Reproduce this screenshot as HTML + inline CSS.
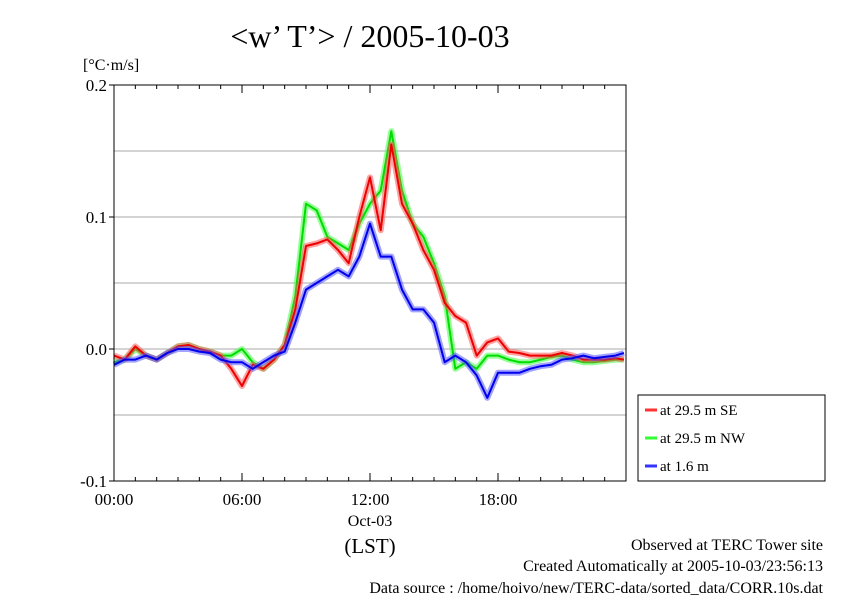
<!DOCTYPE html>
<html><head><meta charset="utf-8"><style>
body{margin:0;background:#fff;}
svg{display:block;font-family:"Liberation Serif",serif;}
</style></head><body>
<svg id="c" width="842" height="595" xmlns="http://www.w3.org/2000/svg">
<text x="370" y="47" font-size="32" text-anchor="middle">&lt;w’ T’&gt; / 2005-10-03</text>
<text x="83" y="70" font-size="16">[°C·m/s]</text>
<g id="grid"></g><g id="series"></g><g id="axes"></g>
<text x="370" y="526" font-size="16" text-anchor="middle">Oct-03</text>
<text x="370" y="553" font-size="21" text-anchor="middle">(LST)</text>
<text x="823" y="550" font-size="16" text-anchor="end">Observed at TERC Tower site</text>
<text x="823" y="571" font-size="16" text-anchor="end">Created Automatically at 2005-10-03/23:56:13</text>
<text x="823" y="593" font-size="16" text-anchor="end">Data source : /home/hoivo/new/TERC-data/sorted_data/CORR.10s.dat</text>
<g>
<rect x="638" y="395" width="187" height="86" fill="#fff" stroke="#000"/>
<line x1="645" y1="410" x2="657" y2="410" stroke="#f33" stroke-width="3"/><text x="660" y="415" font-size="15">at 29.5 m SE</text>
<line x1="645" y1="438" x2="657" y2="438" stroke="#3f3" stroke-width="3"/><text x="660" y="443" font-size="15">at 29.5 m NW</text>
<line x1="645" y1="466" x2="657" y2="466" stroke="#33f" stroke-width="3"/><text x="660" y="471" font-size="15">at 1.6 m</text>
</g>
</svg>
<script>
const hours=[];for(let i=0;i<=48;i++)hours.push(i*0.5);
const seriesSE=[-0.005,-0.008,0.002,-0.005,-0.008,-0.003,0.002,0.003,0.0,-0.002,-0.005,-0.015,-0.028,-0.012,-0.015,-0.008,0.003,0.03,0.078,0.08,0.083,0.075,0.065,0.10,0.13,0.09,0.155,0.11,0.095,0.075,0.06,0.035,0.025,0.02,-0.005,0.005,0.008,-0.002,-0.003,-0.005,-0.005,-0.005,-0.003,-0.005,-0.008,-0.008,-0.008,-0.007,-0.008];
const seriesNW=[-0.01,-0.008,0.0,-0.005,-0.008,-0.003,0.002,0.003,0.0,-0.002,-0.005,-0.005,0.0,-0.01,-0.015,-0.008,0.003,0.04,0.11,0.105,0.085,0.08,0.075,0.095,0.11,0.12,0.165,0.12,0.095,0.085,0.065,0.04,-0.015,-0.01,-0.015,-0.005,-0.005,-0.008,-0.01,-0.01,-0.008,-0.006,-0.005,-0.008,-0.01,-0.01,-0.009,-0.008,-0.008];
const seriesLow=[-0.012,-0.008,-0.008,-0.005,-0.008,-0.003,0.0,0.0,-0.002,-0.003,-0.008,-0.01,-0.01,-0.015,-0.01,-0.005,-0.002,0.02,0.045,0.05,0.055,0.06,0.055,0.07,0.095,0.07,0.07,0.045,0.03,0.03,0.02,-0.01,-0.005,-0.01,-0.02,-0.037,-0.018,-0.018,-0.018,-0.015,-0.013,-0.012,-0.008,-0.007,-0.005,-0.007,-0.006,-0.005,-0.003];
const yTicks=[0.2,0.1,0.0,-0.1];
const yTickLabels=["0.2","0.1","0.0","-0.1"];
const xTicks=[0,6,12,18];
const xTickLabels=["00:00","06:00","12:00","18:00"];
const NS="http://www.w3.org/2000/svg";
const L=114,R=626,T=85,B=481;
const xs=h=>L+h/24*(R-L);
const ys=v=>349-v*1320;
function mk(t,a,p){const e=document.createElementNS(NS,t);for(const k in a)e.setAttribute(k,a[k]);p.appendChild(e);return e;}
const grid=document.getElementById('grid'),axes=document.getElementById('axes'),ser=document.getElementById('series');
[0.15,0.1,0.05,0,-0.05].forEach(v=>{const l=mk('line',{x1:L,x2:R,y1:ys(v),y2:ys(v),stroke:'#aaa'},grid);

});
const fr=mk('rect',{x:L,y:T,width:R-L,height:B-T,fill:'none',stroke:'#000'},axes);


for(let h=0;h<=24;h++){const x=xs(h),len=h%6==0?8:4;
mk('line',{x1:x,x2:x,y1:B,y2:B-len,stroke:'#000'},axes);mk('line',{x1:x,x2:x,y1:T,y2:T+len,stroke:'#000'},axes);}
yTicks.forEach((v,i)=>{mk('line',{x1:L-5,x2:L,y1:ys(v),y2:ys(v),stroke:'#000'},axes);
const t=mk('text',{x:L-7,y:ys(v)+6,'font-size':17,'text-anchor':'end'},axes);t.textContent=yTickLabels[i];

});
xTicks.forEach((h,i)=>{const t=mk('text',{x:xs(h),y:505,'font-size':17,'text-anchor':'middle'},axes);t.textContent=xTickLabels[i];

});
function draw(vals,c1,c2,name){const d=vals.map((v,i)=>(i?'L':'M')+xs(Math.min(hours[i],23.9)).toFixed(1)+','+ys(v).toFixed(1)).join('');
const g=mk('g',{},ser);


mk('path',{d:d,fill:'none',stroke:c2,'stroke-width':6,'stroke-linejoin':'round','stroke-opacity':0.55},g);
mk('path',{d:d,fill:'none',stroke:c1,'stroke-width':2,'stroke-linejoin':'round'},g);}
draw(seriesNW,'#0d0','#4f4','series-nw');
draw(seriesSE,'#e00','#f55','series-se');
draw(seriesLow,'#00e','#55f','series-low');
</script>
</body></html>
